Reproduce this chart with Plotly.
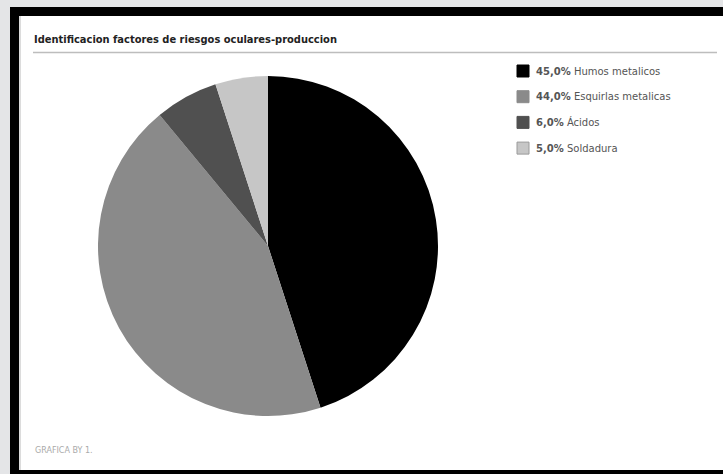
import plotly.graph_objects as go

title_text = "Identificacion factores de riesgos oculares-produccion"
categories = ["Humos metalicos", "Esquirlas metalicas", "Ácidos", "Soldadura"]
values = [45.0, 44.0, 6.0, 5.0]
colors = ["#000000", "#8a8a8a", "#505050", "#c6c6c6"]
footer_text = "GRAFICA BY 1."

W, H = 723, 474

def px(x):
    return x / W

def py(y):
    return 1 - y / H

fig = go.Figure()
fig.add_trace(go.Pie(
    labels=categories,
    values=values,
    marker=dict(colors=colors, line=dict(width=0)),
    sort=False,
    direction="clockwise",
    rotation=0,
    textinfo="none",
    hoverinfo="skip",
    showlegend=False,
    domain=dict(x=[px(98), px(438)], y=[py(416), py(76)]),
))

def rect(x0, y0, x1, y1, color):
    return dict(type="rect", xref="paper", yref="paper", x0=px(x0), x1=px(x1), y0=py(y1), y1=py(y0),
                fillcolor=color, line=dict(width=0), layer="below")

shapes = [
    rect(0, 0, 10, H, "#e4e5e7"),
    rect(0, 0, W, 7, "#e4e5e7"),
    rect(10, 7, 19, H, "#000000"),
    rect(10, 7, W, 16, "#000000"),
    rect(10, 470, W, H, "#000000"),
    rect(19, 16, 21, 470, "#dcdcdc"),
    # title underline
    dict(type="line", xref="paper", yref="paper", x0=px(33), x1=px(717), y0=py(52.5), y1=py(52.5),
         line=dict(color="#bdbdbd", width=1.5)),
]

annotations = [
    dict(text="<b>" + title_text + "</b>", xref="paper", yref="paper", x=px(32), y=py(40), xanchor="left",
         yanchor="middle", showarrow=False,
         font=dict(family="DejaVu Sans Condensed, Liberation Sans Narrow, DejaVu Sans, sans-serif",
                   size=11, color="#222222")),
    dict(text=footer_text, xref="paper", yref="paper", x=px(33), y=py(450), xanchor="left", yanchor="middle",
         showarrow=False, font=dict(family="DejaVu Sans, sans-serif", size=8, color="#aaaaaa")),
]

leg_x = 517
leg_y0 = 71
leg_dy = 25.7
sq = 12
for i, (cat, val, col) in enumerate(zip(categories, values, colors)):
    yc = leg_y0 + i * leg_dy
    shapes.append(dict(type="rect", xref="paper", yref="paper",
                       x0=px(leg_x), x1=px(leg_x + sq), y0=py(yc + sq / 2), y1=py(yc - sq / 2),
                       fillcolor=col, line=dict(color="#9a9a9a" if i == 3 else col, width=1)))
    label = f"<b>{val:.1f}%</b> {cat}".replace(".", ",")
    annotations.append(dict(text=label, xref="paper", yref="paper", x=px(leg_x + sq + 5), y=py(yc),
                            xanchor="left", yanchor="middle", showarrow=False,
                            font=dict(family="DejaVu Sans, sans-serif", size=10, color="#555555")))

fig.update_layout(
    width=W, height=H,
    margin=dict(l=0, r=0, t=0, b=0),
    paper_bgcolor="#ffffff",
    plot_bgcolor="#ffffff",
    shapes=shapes,
    annotations=annotations,
)

fig.write_html("out.html",
               config={"displayModeBar": False},
               post_script=("var s=document.createElement('style');"
                            "s.textContent='html,body{margin:0;padding:0;overflow:hidden;}"
                            "::-webkit-scrollbar{display:none;width:0;height:0;}';"
                            "document.head.appendChild(s);"))
